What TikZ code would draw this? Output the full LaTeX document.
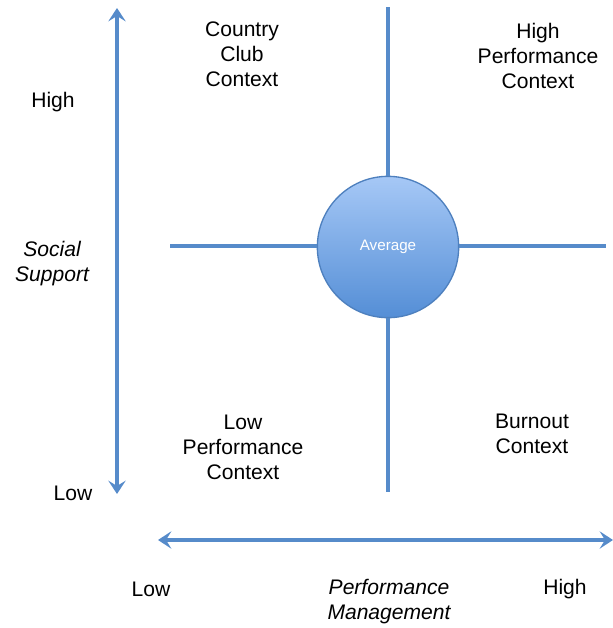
\documentclass[tikz,border=0pt]{standalone}
\usepackage{fontspec}
\setmainfont{Liberation Sans}
\usetikzlibrary{arrows.meta}

\definecolor{axisblue}{RGB}{86,139,202}
\definecolor{rimblue}{RGB}{78,128,190}
\definecolor{topblue}{RGB}{166,200,246}
\definecolor{botblue}{RGB}{84,142,214}

\tikzset{every picture/.style={line width=0.75pt}}
\tikzset{
  axisline/.style={color=axisblue, line width=2.4pt},
  axisarrow/.style={axisline, {Stealth[length=10pt,width=13pt,inset=4pt]}-{Stealth[length=10pt,width=13pt,inset=4pt]}},
  lbl/.style={inner sep=0.75pt, align=center, font=\fontsize{15.8}{18.75}\selectfont},
  ilbl/.style={lbl, font=\fontsize{15.8}{18.75}\selectfont\itshape}
}

\begin{document}
\begin{tikzpicture}[x=0.75pt,y=0.75pt,yscale=-1,xscale=1]
\useasboundingbox (0,0) rectangle (613,628);

%Circle [id:avg] 
\node (avg) [circle, draw=rimblue, line width=1pt, top color=topblue, bottom color=botblue, minimum size=106pt, inner sep=0pt, text=white, font=\fontsize{11.4}{13}\selectfont] at (388,247) {Average};

%Straight Lines [id:grid] 
\coordinate (gtop) at (388,7);
\coordinate (gbot) at (388,492);
\coordinate (gleft) at (170,246);
\coordinate (gright) at (606,246);
\draw [axisline] (avg.north) -- (gtop);
\draw [axisline] (avg.south) -- (gbot);
\draw [axisline] (avg.west |- gleft) -- (gleft);
\draw [axisline] (avg.east |- gright) -- (gright);

%Arrows [id:axes] 
\coordinate (vtop) at (117,8);
\coordinate (vbot) at (117,494);
\coordinate (hleft) at (158,540);
\coordinate (hright) at (613,540);
\draw [axisarrow] (vbot) -- (vtop);
\draw [axisarrow] (hleft) -- (hright);

% Text Node
\node (sshigh) [lbl] at (53,102) {High};
% Text Node
\node (ss) [ilbl] at (52,264) {Social\\Support};
% Text Node
\node (sslow) [lbl] at (73,493) {Low};
% Text Node
\node (cc) [lbl] at (242,54) {Country\\Club\\Context};
% Text Node
\node (hp) [lbl] at (538,56) {High\\Performance\\Context};
% Text Node
\node (lp) [lbl] at (243,447) {Low\\Performance\\Context};
% Text Node
\node (bo) [lbl] at (532,434) {Burnout\\Context};
% Text Node
\node (pmlow) [lbl] at (151,589) {Low};
% Text Node
\node (pm) [ilbl] at (389,602) {Performance\\Management};
% Text Node
\node (pmhigh) [lbl] at (565,589) {High};
\end{tikzpicture}
\end{document}
